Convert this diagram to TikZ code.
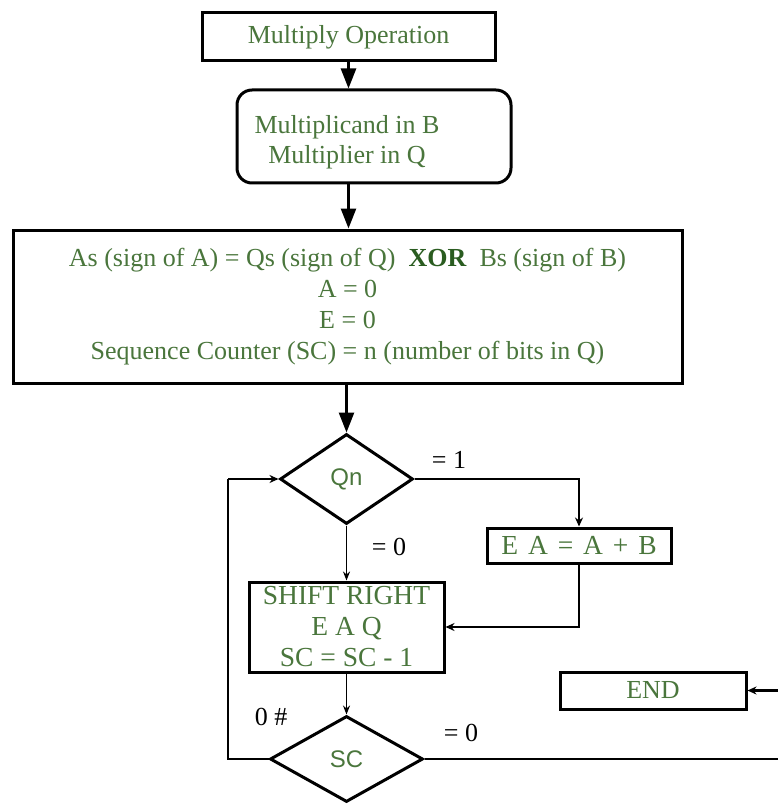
\documentclass[tikz,border=0pt]{standalone}
\usepackage{fontspec}
\setmainfont{Liberation Serif}
\newfontfamily\diafont{Liberation Sans}
\usetikzlibrary{shapes.geometric,arrows.meta}
\definecolor{txtgreen}{RGB}{74,118,60}
\definecolor{boldgreen}{RGB}{42,92,32}
\tikzset{
  box/.style={draw=black, line width=3pt, fill=white, text=txtgreen,
    font=\fontsize{26}{31}\selectfont, align=center, inner sep=0pt},
  rbox/.style={box, rounded corners=15pt},
  opbox/.style={box, font=\fontsize{27.5}{31}\selectfont},
  decision/.style={diamond, draw=black, line width=3pt, fill=white,
    text=txtgreen, font=\diafont\fontsize{24}{26}\selectfont, inner sep=0pt},
  flow/.style={line width=2.6pt, -{Triangle[length=20pt,width=15pt]}},
  thinflow/.style={line width=1.7pt, -{Stealth[length=9pt,width=7pt]}},
  wire/.style={line width=2.6pt, -{Stealth[length=9pt,width=8pt]}},
  plain/.style={line width=2.6pt},
  lbl/.style={font=\fontsize{26}{28}\selectfont, text=black, inner sep=0pt}
}
\begin{document}
\begin{tikzpicture}[x=1pt, y=-1pt]
\useasboundingbox (0,0) rectangle (778,805);
\clip (0,0) rectangle (778,805);

% process boxes
\node[box, minimum width=293pt, minimum height=48pt] (start) at (348.5,37) {Multiply Operation};
\node[rbox, minimum width=274pt, minimum height=93pt] (load) at (374,136.5) {};
\node[text=txtgreen, font=\fontsize{26}{30}\selectfont, align=center, inner sep=0pt]
  (loadtext) at (347,142) {Multiplicand in B\\Multiplier in Q};
\node[box, minimum width=669pt, minimum height=153pt] (init) at (347.5,306.5)
  {As (sign of A) = Qs (sign of Q)\ \ \textcolor{boldgreen}{\textbf{XOR}}\ \ Bs (sign of B)\\
   A = 0\\ E = 0\\ Sequence Counter (SC) = n (number of bits in Q)};

% decisions
\node[decision, minimum width=133pt, minimum height=90pt] (qn) at (346.5,479) {Qn};
\node[decision, minimum width=153pt, minimum height=86pt] (sc) at (346.5,759) {SC};

% operations
\node[opbox, minimum width=184pt, minimum height=35pt]
  (add) at (579,545.5) {\spaceskip=0.36em\relax E A = A + B};
\node[opbox, minimum width=195pt, minimum height=90pt] (shift) at (346.5,627)
  {SHIFT RIGHT\\E A Q\\SC = SC - 1};
\node[box, minimum width=186pt, minimum height=37pt] (end) at (653,690.5) {END};

% bend points of the routed connectors
\coordinate (addtop) at (add.north);
\coordinate (looptop) at (228,479);
\coordinate (loopbot) at (228,759);
\coordinate (farright) at (800,759);
\coordinate (farend) at (800,690.5);

% connectors
\draw[flow] (start.south) -- (load.north -| start.south);
\draw[flow] (load.south -| start.south) -- (init.north -| start.south);
\draw[flow] (init.south -| qn.north) -- (qn.north);
\draw[wire] (qn.east) -| (addtop);
\draw[thinflow] (qn.south) -- (shift.north -| qn.south);
\draw[wire] (add.south) |- (shift.east);
\draw[thinflow] (shift.south -| sc.north) -- (sc.north);
\draw[plain] (sc.west) -- (loopbot) -- (looptop);
\draw[wire] (looptop) -- (qn.west);
\draw[plain] (sc.east) -- (farright) -- (farend);
\draw[wire] (farend) -- (end.east);

% branch labels
\node[lbl] (l1) at (449,460) {= 1};
\node[lbl] (l2) at (389,547) {= 0};
\node[lbl] (l3) at (271,717) {0 \#};
\node[lbl] (l4) at (461,733) {= 0};
\end{tikzpicture}
\end{document}
